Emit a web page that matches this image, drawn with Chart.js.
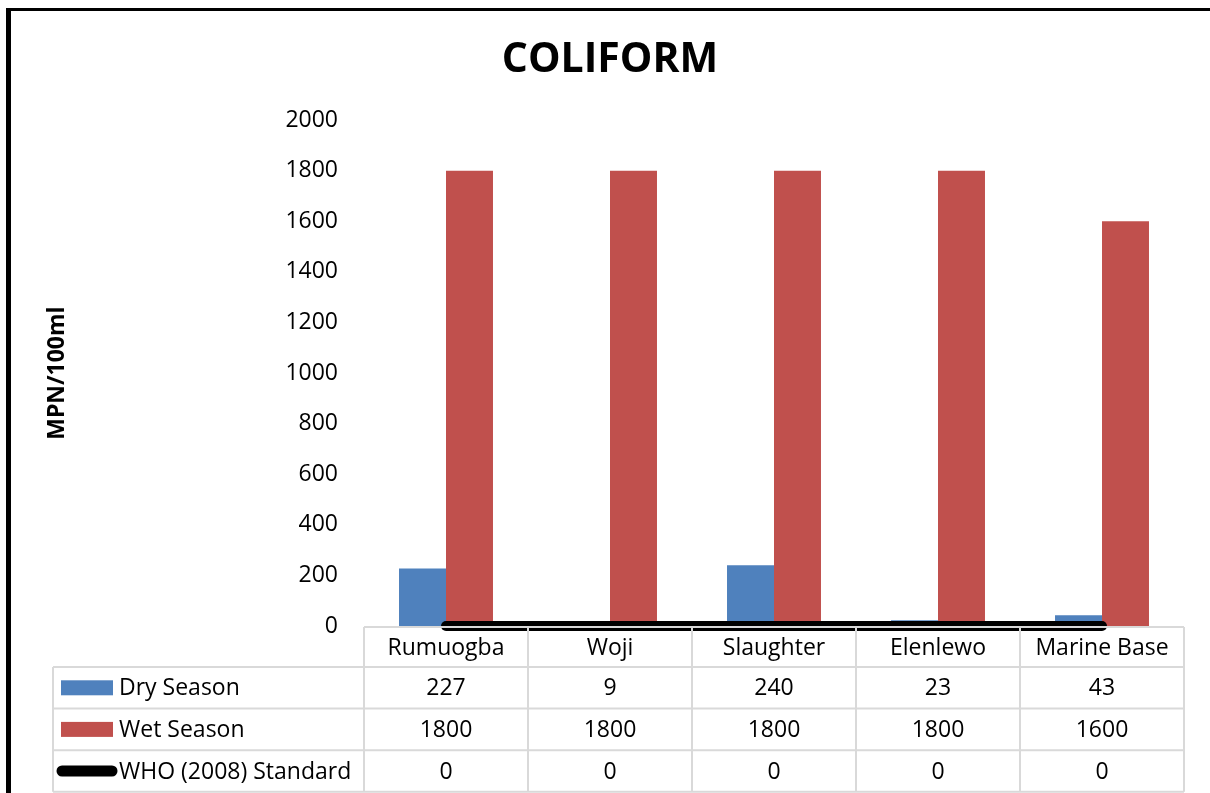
<!DOCTYPE html>
<html>
<head>
<meta charset="utf-8">
<script src="https://cdn.jsdelivr.net/npm/chart.js@4/dist/chart.umd.min.js"></script>
<style>
  html, body { margin: 0; padding: 0; background: #ffffff; }
  #wrap { width: 1210px; height: 793px; position: relative; }
</style>
</head>
<body>
<div id="wrap"><canvas id="coliform" width="1210" height="793"></canvas></div>
<script>
// Sampling sites and coliform counts (MPN/100ml)
const sites = ['Rumuogba', 'Woji', 'Slaughter', 'Elenlewo', 'Marine Base'];
const drySeason = [227, 9, 240, 23, 43];
const wetSeason = [1800, 1800, 1800, 1800, 1600];
const whoStandard = [0, 0, 0, 0, 0];
const yTicks = [0, 200, 400, 600, 800, 1000, 1200, 1400, 1600, 1800, 2000];

const FONT = '"Open Sans", "Liberation Sans", sans-serif';
const GRID_GRAY = '#d9d9d9';

// Data table under the plot: header row comes from the x axis labels,
// legend keys and values are drawn in the rows below it.
const dataTable = {
  id: 'dataTable',
  afterDraw(chart) {
    const { ctx, chartArea, scales } = chart;
    const x = scales.x;
    const n = sites.length;
    const colW = (chartArea.right - chartArea.left) / n;
    const headTop = chartArea.bottom + 1;
    const headH = 40;
    const rowH = 41.6;
    const legendLeft = 53;
    const rowTops = [headTop + headH, headTop + headH + rowH, headTop + headH + 2 * rowH];
    const bottom = headTop + headH + 3 * rowH;

    ctx.save();
    ctx.strokeStyle = GRID_GRAY;
    ctx.lineWidth = 2;
    ctx.beginPath();
    ctx.moveTo(chartArea.left, headTop);
    ctx.lineTo(chartArea.right, headTop);
    rowTops.concat([bottom]).forEach(y => {
      ctx.moveTo(legendLeft, y);
      ctx.lineTo(chartArea.right, y);
    });
    for (let i = 0; i <= n; i++) {
      const cx = chartArea.left + i * colW;
      ctx.moveTo(cx, headTop);
      ctx.lineTo(cx, bottom);
    }
    ctx.moveTo(legendLeft, rowTops[0]);
    ctx.lineTo(legendLeft, bottom);
    ctx.stroke();

    ctx.font = '23px ' + FONT;
    ctx.fillStyle = '#000000';
    ctx.textBaseline = 'middle';
    chart.data.datasets.forEach((ds, r) => {
      const cy = rowTops[r] + rowH / 2;
      if (ds.type === 'line') {
        ctx.save();
        ctx.strokeStyle = ds.borderColor;
        ctx.lineWidth = 11;
        ctx.lineCap = 'round';
        ctx.beginPath();
        ctx.moveTo(62, cy);
        ctx.lineTo(112, cy);
        ctx.stroke();
        ctx.restore();
      } else {
        ctx.fillStyle = ds.backgroundColor;
        ctx.fillRect(61, cy - 7.5, 52, 15);
        ctx.fillStyle = '#000000';
      }
      ctx.textAlign = 'left';
      ctx.fillText(ds.label, 119, cy + 1);
      ctx.textAlign = 'center';
      ds.data.forEach((v, i) => {
        ctx.fillText(String(v), x.getPixelForValue(i), cy + 1);
      });
    });

    // outer frame
    ctx.fillStyle = '#000000';
    ctx.fillRect(6, 8, 5, 800);
    ctx.fillRect(6, 8, 1210, 3);
    ctx.restore();
  }
};

new Chart(document.getElementById('coliform'), {
  data: {
    labels: sites,
    datasets: [
      {
        type: 'bar',
        label: 'Dry Season',
        data: drySeason,
        backgroundColor: '#4F81BD',
        borderWidth: 0,
        yAxisID: 'y',
        order: 2
      },
      {
        type: 'bar',
        label: 'Wet Season',
        data: wetSeason,
        backgroundColor: '#C0504D',
        borderWidth: 0,
        yAxisID: 'y',
        order: 2
      },
      {
        type: 'line',
        label: 'WHO (2008) Standard',
        data: whoStandard,
        borderColor: '#000000',
        backgroundColor: '#000000',
        borderWidth: 10,
        borderCapStyle: 'round',
        pointRadius: 0,
        fill: false,
        clip: false,
        yAxisID: 'y',
        order: 0
      }
    ]
  },
  options: {
    responsive: false,
    animation: false,
    layout: { padding: { left: 10, right: 0, top: 0, bottom: 0 } },
    datasets: {
      bar: { categoryPercentage: 0.573, barPercentage: 1.0 }
    },
    plugins: {
      legend: { display: false },
      tooltip: { enabled: false },
      title: {
        display: true,
        text: 'COLIFORM',
        color: '#000000',
        font: { family: FONT, size: 41, weight: 'bold', lineHeight: 1.2 },
        padding: { top: 36, bottom: 35 }
      }
    },
    scales: {
      x: {
        grid: { display: false, drawTicks: false },
        border: { display: false },
        ticks: {
          color: '#000000',
          font: { family: FONT, size: 23 },
          padding: 9,
          maxRotation: 0,
          autoSkip: false
        },
        afterFit(scale) { scale.height = 167; }
      },
      y: {
        position: 'left',
        min: 0,
        max: 2000,
        afterBuildTicks(scale) { scale.ticks = yTicks.map(v => ({ value: v })); },
        grid: { display: false, drawTicks: false },
        border: { display: false },
        ticks: {
          color: '#000000',
          font: { family: FONT, size: 23 },
          padding: 26,
          callback: v => String(v)
        },
        title: {
          display: true,
          text: 'MPN/100ml',
          color: '#000000',
          font: { family: FONT, size: 23, weight: 'bold', lineHeight: 1.2 },
          padding: { top: 34, bottom: 0 }
        },
        afterFit(scale) { scale.width = 354; }
      },
      // empty strip on the right side of the plot
      yRight: {
        position: 'right',
        display: true,
        grid: { display: false, drawTicks: false },
        border: { display: false },
        ticks: { display: false },
        afterFit(scale) { scale.width = 26; }
      }
    }
  },
  plugins: [dataTable]
});
</script>
</body>
</html>
